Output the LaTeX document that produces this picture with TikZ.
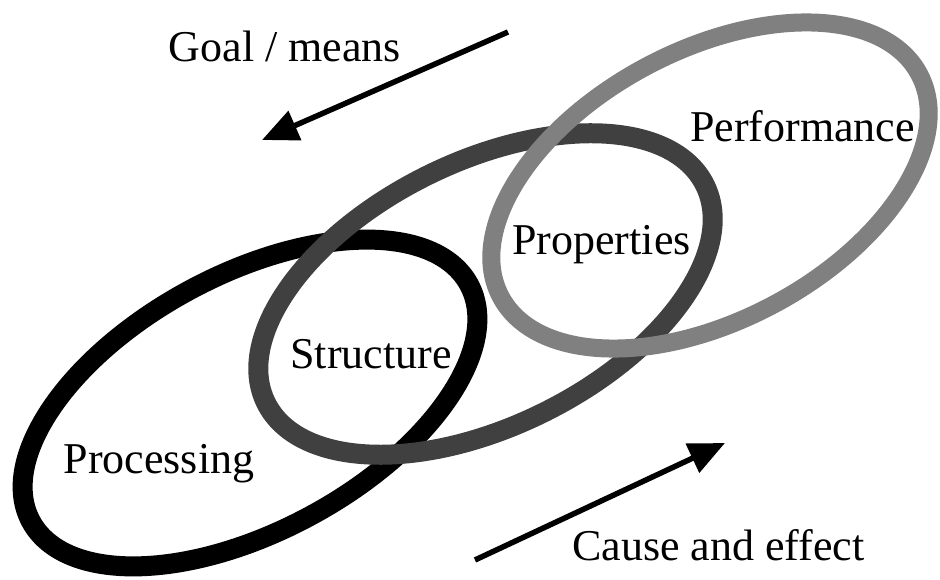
\documentclass[tikz,border=0pt]{standalone}
\usepackage{fontspec}
\setmainfont{Liberation Serif}
\usetikzlibrary{arrows.meta}
\definecolor{darkring}{HTML}{404040}
\definecolor{lightring}{HTML}{808080}
\begin{document}
\begin{tikzpicture}[x=1pt,y=1pt,
  lbl/.style={inner sep=0pt,anchor=base,font=\fontsize{44}{50}\selectfont},
  ring/.style={line width=20pt},
  flowarrow/.style={line width=5.5pt,-{Triangle[length=36pt,width=31pt]}}]
\useasboundingbox (0,0) rectangle (940,579);
% ellipses
\draw[ring,black,rotate around={28.4:(250,176)}] (250,176) ellipse [x radius=249, y radius=128];
\draw[ring,darkring,rotate around={26.4:(485.5,285)}] (485.5,285) ellipse [x radius=245, y radius=132];
\draw[ring,lightring,line width=18pt,rotate around={28:(710,393.5)}] (710,393.5) ellipse [x radius=237, y radius=135];
% labels
\node[lbl] (goal) at (285,517) {Goal / means};
\node[lbl] (perf) at (802.5,437) {Performance};
\node[lbl] (prop) at (601.5,324) {Properties};
\node[lbl] (struct) at (371,211) {Structure};
\node[lbl] (proc) at (159,106) {Processing};
\node[lbl] (cause) at (718.5,19) {Cause and effect};
% arrows
\coordinate (gs) at (508,547);
\coordinate (ge) at (262,439);
\coordinate (cs) at (475,19);
\coordinate (ce) at (725,136);
\draw[flowarrow] (gs) -- (ge);
\draw[flowarrow] (cs) -- (ce);
\end{tikzpicture}
\end{document}
